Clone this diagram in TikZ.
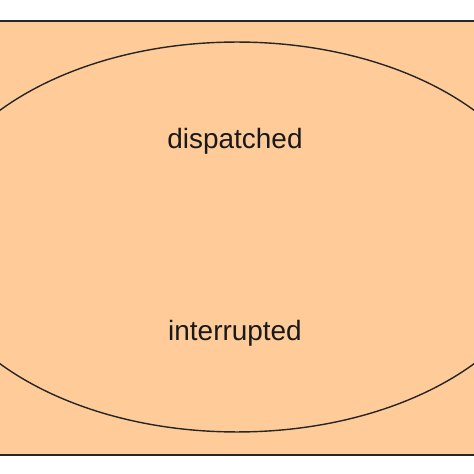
\documentclass[tikz,border=0pt]{standalone}
\usepackage{fontspec}
\setmainfont{Liberation Sans}
\usetikzlibrary{shapes.geometric}
\definecolor{peach}{HTML}{FFCC99}

\begin{document}
\begin{tikzpicture}[
  x=0.02cm, y=0.02cm,
  frame/.style={draw=black!85, line width=1.1pt, fill=peach},
  statebox/.style={ellipse, draw=black!85, line width=0.8pt, inner sep=0pt,
    outer sep=0pt, minimum width=12.48cm, minimum height=7.8cm},
  lbl/.style={font=\fontsize{15.9}{19}\selectfont, text=black!90, inner sep=0pt}
]
\useasboundingbox (0,0) rectangle (474,474);
\clip (0,0) rectangle (474,474);
\fill[white] (0,0) rectangle (474,474);

\draw[frame] (-20,19) rectangle (494,453);
\node[statebox] (state) at (237,237) {};

\node[lbl] (dispatched)  at (235,333) {dispatched};
\node[lbl] (interrupted) at (235,141) {interrupted};
\end{tikzpicture}
\end{document}
